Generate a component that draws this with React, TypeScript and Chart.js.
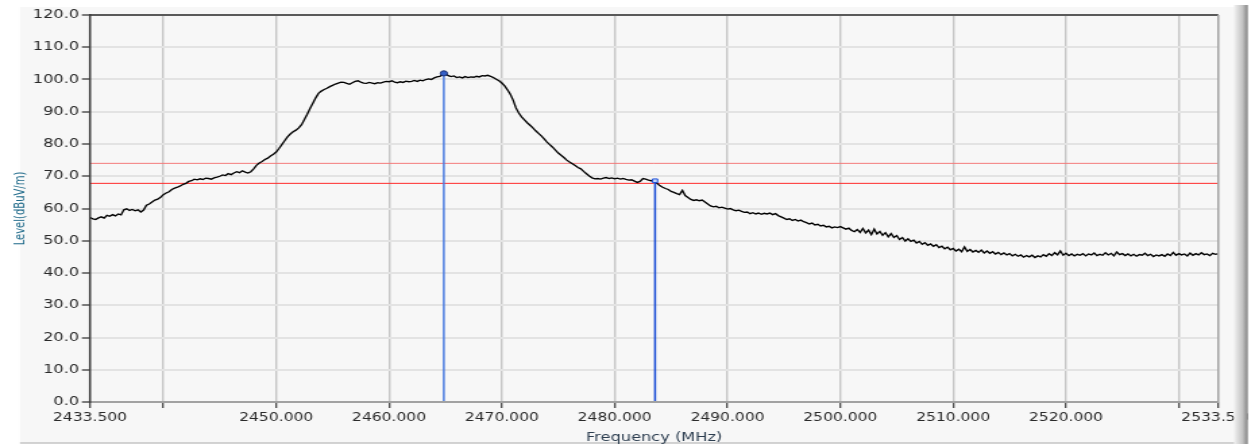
import React, { useEffect, useRef } from 'react';
import { Chart, registerables } from 'chart.js';

Chart.register(...registerables);

// ---- data ----
const FREQ_START = 2433.5; // MHz
const FREQ_STEP = 0.25; // MHz per sample
const LEVELS: number[] = [
  57.2, 56.8, 56.6, 57.1, 57.4, 57.0, 57.9, 57.6, 58.1, 57.7, 58.3, 58.0, 59.6, 59.9, 59.4, 59.7, 59.3, 59.6, 58.9, 59.5,
  61.0, 61.4, 62.0, 62.6, 62.9, 63.5, 64.3, 64.8, 65.2, 65.9, 66.3, 66.6, 67.0, 67.5, 67.8, 68.4, 68.6, 69.1, 68.9, 69.2,
  69.0, 69.4, 69.3, 69.1, 69.5, 69.7, 70.0, 70.4, 70.2, 70.8, 70.5, 71.0, 71.4, 71.1, 71.7, 71.3, 71.0, 71.4, 72.3, 73.4,
  74.1, 74.6, 75.2, 75.6, 76.3, 76.8, 77.5, 78.6, 79.8, 81.0, 82.2, 83.1, 83.8, 84.3, 85.0, 86.0, 87.6, 89.2, 91.0, 92.6,
  94.3, 95.7, 96.4, 96.9, 97.3, 97.8, 98.2, 98.6, 98.9, 99.2, 99.1, 98.8, 98.5, 99.0, 99.4, 99.6, 99.2, 98.9, 98.8, 99.1,
  98.9, 98.7, 99.0, 98.9, 99.2, 99.4, 99.3, 99.6, 99.2, 99.0, 99.3, 99.1, 99.5, 99.3, 99.4, 99.7, 99.4, 99.8, 99.6, 100.0,
  100.2, 100.0, 100.5, 100.8, 101.0, 101.5, 101.9, 101.2, 100.9, 101.1, 100.6, 100.8, 100.5, 100.9, 100.6, 100.8, 100.7, 101.0, 100.8, 101.2,
  101.1, 101.3, 101.0, 100.6, 100.1, 99.6, 98.9, 98.0, 96.8, 95.4, 93.6, 91.2, 89.6, 88.4, 87.5, 86.6, 85.8, 85.0, 84.1, 83.3,
  82.5, 81.6, 80.6, 79.8, 79.0, 78.1, 77.2, 76.5, 75.8, 75.0, 74.4, 73.9, 73.3, 72.7, 72.3, 71.5, 70.8, 70.1, 69.5, 69.2,
  69.3, 69.1, 69.4, 69.6, 69.3, 69.5, 69.2, 69.4, 69.1, 69.3, 69.0, 68.8, 68.9, 68.5, 68.1, 68.4, 69.3, 69.1, 68.8, 68.6,
  68.4, 67.8, 67.1, 66.6, 66.2, 65.9, 65.3, 65.0, 64.6, 64.3, 65.6, 64.0, 63.4, 62.8, 62.5, 62.7, 62.4, 62.6, 62.0, 61.4,
  60.8, 60.5, 60.7, 60.2, 60.4, 60.1, 59.8, 60.0, 59.6, 59.3, 59.5, 59.1, 58.8, 58.9, 58.4, 58.7, 58.3, 58.6, 58.2, 58.5,
  58.3, 58.6, 58.1, 58.4, 57.8, 57.4, 57.0, 56.6, 56.8, 56.3, 56.6, 56.1, 56.4, 55.9, 55.6, 55.2, 55.5, 54.9, 55.1, 54.6,
  54.8, 54.3, 54.5, 54.0, 54.3, 54.1, 54.4, 54.0, 53.6, 53.9, 53.2, 52.8, 53.5, 52.6, 53.8, 52.4, 53.3, 51.9, 53.6, 52.1,
  52.9, 51.7, 52.5, 51.2, 52.2, 51.0, 51.6, 50.4, 51.0, 49.9, 50.6, 49.8, 50.2, 49.3, 49.8, 48.9, 49.4, 48.6, 49.0, 48.3,
  48.8, 47.9, 48.3, 47.5, 48.0, 47.2, 47.6, 46.8, 47.4, 46.6, 48.1, 46.7, 47.3, 46.5, 47.0, 46.4, 47.1, 46.2, 46.8, 46.1,
  46.6, 45.9, 46.4, 45.7, 46.2, 45.6, 46.0, 45.3, 45.8, 45.2, 45.6, 44.9, 45.4, 45.0, 45.5, 44.8, 45.3, 45.0, 45.7, 45.2,
  46.0, 45.4, 46.3, 45.6, 46.8, 45.5, 46.1, 45.4, 45.9, 45.3, 45.8, 45.5, 46.0, 45.3, 45.9, 45.6, 46.2, 45.4, 45.8, 45.5,
  46.3, 45.6, 46.1, 45.3, 46.5, 45.7, 46.0, 45.4, 45.9, 45.3, 45.8, 45.2, 45.7, 45.5, 46.1, 45.4, 45.8, 45.1, 45.6, 45.3,
  45.7, 45.2, 45.9, 45.4, 46.4, 45.5, 46.0, 45.6, 45.9, 45.3, 46.2, 45.5, 46.0, 45.6, 46.3, 45.7, 45.9, 45.4, 46.1, 45.8,
  46.0,
];
const X_MIN = 2433.5;
const X_MAX = 2533.5;
const X_TICKS = [2433.5, 2440, 2450, 2460, 2470, 2480, 2490, 2500, 2510, 2520, 2530, 2533.5];
const X_UNLABELED = [2440, 2530];
const Y_MIN = 0;
const Y_MAX = 120;
const Y_STEP = 10;
const LIMIT_LEVELS = [74.0, 67.8];
const MARKER_FREQS = [2464.86, 2483.58];
const MARKER_LEVELS = [101.9, 68.6];
const X_TITLE = 'Frequency (MHz)';
const Y_TITLE = 'Level(dBuV/m)';

// ---- rendering geometry (canvas is drawn narrow and stretched horizontally) ----
const VIEW_W = 1255;
const VIEW_H = 446;
const CANVAS_W = 930;
const SX = VIEW_W / CANVAS_W;

const panelPlugin = {
  id: 'panel',
  beforeDraw(chart: any) {
    const { ctx, width, height } = chart;
    ctx.save();
    ctx.fillStyle = '#ffffff';
    ctx.fillRect(0, 0, width, height);
    ctx.fillStyle = '#f7f7f7';
    ctx.fillRect(20 / SX, 7, 1236 / SX - 20 / SX, 436);
    ctx.strokeStyle = '#c4c4c4';
    ctx.lineWidth = 1.5;
    ctx.beginPath();
    ctx.moveTo(20 / SX, 443);
    ctx.lineTo(1236 / SX, 443);
    ctx.stroke();
    ctx.restore();
  },
  afterDatasetsDraw(chart: any) {
    const { ctx, chartArea } = chart;
    const { left, right, top, bottom } = chartArea;
    ctx.save();
    ctx.lineWidth = 2;
    ctx.strokeStyle = '#5a5a5a';
    ctx.beginPath();
    ctx.moveTo(left, top);
    ctx.lineTo(right, top);
    ctx.stroke();
    ctx.strokeStyle = '#a2a2a2';
    ctx.beginPath();
    ctx.moveTo(left, bottom);
    ctx.lineTo(right, bottom);
    ctx.stroke();
    ctx.lineWidth = 1.5;
    ctx.beginPath();
    ctx.moveTo(right, top);
    ctx.lineTo(right, bottom);
    ctx.stroke();
    ctx.strokeStyle = '#3c3c3c';
    ctx.beginPath();
    ctx.moveTo(left, top - 1);
    ctx.lineTo(left, bottom + 1);
    ctx.stroke();
    ctx.restore();
  },
  afterDraw(chart: any) {
    const { ctx, width, height } = chart;
    ctx.save();
    const x0 = 1234 / SX;
    const x1 = 1248 / SX;
    const g = ctx.createLinearGradient(x0, 0, x1, 0);
    g.addColorStop(0, '#f1f1f1');
    g.addColorStop(0.6, '#c4c4c4');
    g.addColorStop(1, '#808080');
    ctx.fillStyle = g;
    ctx.fillRect(x0, 5, x1 - x0, 439);
    ctx.fillStyle = '#ffffff';
    ctx.fillRect(x1, 0, width - x1, height);
    ctx.restore();
  },
};

export default function App() {
  const canvasRef = useRef<HTMLCanvasElement | null>(null);

  useEffect(() => {
    const canvas = canvasRef.current;
    if (!canvas) return;

    const trace = LEVELS.map((y, i) => ({ x: FREQ_START + i * FREQ_STEP, y }));
    const markerColors = ['#4a7be0', '#1c4fd6'];

    const markerSets = MARKER_FREQS.map((f, i) => ({
      label: `M${i + 1}`,
      data: [
        { x: f, y: Y_MIN },
        { x: f, y: MARKER_LEVELS[i] },
      ],
      borderColor: markerColors[i],
      borderWidth: 1.5,
      pointRadius: [0, 2.6],
      pointStyle: i === 0 ? 'circle' : 'rect',
      pointBackgroundColor: i === 0 ? '#3560c8' : '#c9dbff',
      pointBorderColor: i === 0 ? '#1b2f70' : '#1c4fd6',
      pointBorderWidth: 1,
      tension: 0,
    }));

    const limitColors = ['#f47a7a', '#ff2a2a'];
    const limitSets = LIMIT_LEVELS.map((v, i) => ({
      label: `Limit ${i + 1}`,
      data: [
        { x: X_MIN, y: v },
        { x: X_MAX, y: v },
      ],
      borderColor: limitColors[i],
      borderWidth: 1,
      pointRadius: 0,
      tension: 0,
    }));

    const chart = new Chart(canvas, {
      type: 'line',
      data: {
        datasets: [
          ...markerSets,
          {
            label: 'Level',
            data: trace,
            borderColor: '#000000',
            borderWidth: 1.35,
            pointRadius: 0,
            tension: 0,
          },
          ...limitSets,
        ] as any,
      },
      options: {
        animation: false,
        responsive: false,
        devicePixelRatio: 1,
        events: [],
        layout: { padding: { left: 0, right: CANVAS_W - 1218.3 / SX, top: 15, bottom: 0 } },
        plugins: {
          legend: { display: false },
          tooltip: { enabled: false },
        },
        scales: {
          x: {
            type: 'linear',
            min: X_MIN,
            max: X_MAX,
            afterBuildTicks: (scale: any) => {
              scale.ticks = X_TICKS.map((value) => ({ value }));
            },
            afterFit: (scale: any) => {
              scale.height = 44;
              scale.paddingLeft = 0;
              scale.paddingRight = 0;
            },
            border: { display: false },
            grid: {
              color: (ctx: any) =>
                ctx.tick && (ctx.tick.value === X_MIN || ctx.tick.value === X_MAX)
                  ? 'rgba(0,0,0,0)'
                  : '#c6c6c6',
              lineWidth: 1.4,
              tickColor: '#3a3a3a',
              tickWidth: 1.2,
              tickLength: 6,
              drawTicks: true,
            },
            ticks: {
              autoSkip: false,
              maxRotation: 0,
              minRotation: 0,
              padding: 3,
              color: '#2a2a2a',
              font: { family: 'DejaVu Sans', size: 11.5 },
              callback: (value: any) =>
                X_UNLABELED.includes(Number(value)) ? '' : Number(value).toFixed(3),
            },
            title: {
              display: true,
              text: X_TITLE,
              color: '#2d3e50',
              font: { family: 'DejaVu Sans', size: 12 },
              padding: { top: 0, bottom: 1 },
            },
          },
          y: {
            min: Y_MIN,
            max: Y_MAX,
            afterFit: (scale: any) => {
              scale.width = 90 / SX;
              scale.paddingTop = 0;
              scale.paddingBottom = 0;
            },
            border: { display: false },
            grid: {
              color: '#e3e3e3',
              lineWidth: 2,
              tickColor: '#3a3a3a',
              tickWidth: 1.3,
              tickLength: 6,
              drawTicks: true,
            },
            ticks: {
              stepSize: Y_STEP,
              padding: 2,
              color: '#2a2a2a',
              font: { family: 'DejaVu Sans', size: 12 },
              callback: (value: any) => Number(value).toFixed(1),
            },
            title: {
              display: true,
              text: Y_TITLE,
              color: '#1f6a8a',
              font: { family: 'DejaVu Sans', size: 10 },
              padding: { top: 9, bottom: 0 },
            },
          },
        },
      } as any,
      plugins: [panelPlugin],
    });

    return () => chart.destroy();
  }, []);

  return (
    <div style={{ position: 'fixed', left: 0, top: 0, width: VIEW_W, height: VIEW_H, background: '#fff' }}>
      <canvas
        ref={canvasRef}
        width={CANVAS_W}
        height={VIEW_H}
        style={{ width: `${VIEW_W}px`, height: `${VIEW_H}px`, display: 'block' }}
      />
    </div>
  );
}
